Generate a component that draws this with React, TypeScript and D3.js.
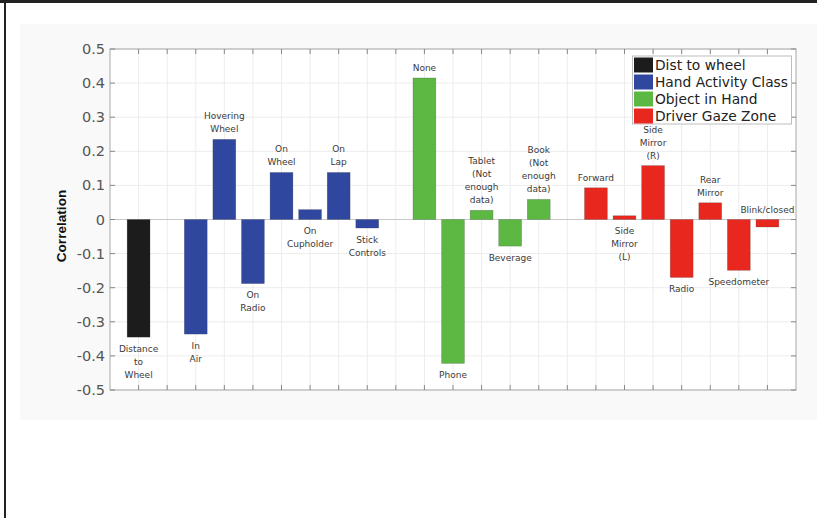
import React from "react";
import * as d3 from "d3";

// ---- data ----
const labels: string[] = [
  "Distance\nto\nWheel",
  "In\nAir",
  "Hovering\nWheel",
  "On\nRadio",
  "On\nWheel",
  "On\nCupholder",
  "On\nLap",
  "Stick\nControls",
  "None",
  "Phone",
  "Tablet\n(Not\nenough\ndata)",
  "Beverage",
  "Book\n(Not\nenough\ndata)",
  "Forward",
  "Side\nMirror\n(L)",
  "Side\nMirror\n(R)",
  "Radio",
  "Rear\nMirror",
  "Speedometer",
  "Blink/closed",
];
const xPos: number[] = [1, 3, 4, 5, 6, 7, 8, 9, 11, 12, 13, 14, 15, 17, 18, 19, 20, 21, 22, 23];
const values: number[] = [
  -0.345, -0.336, 0.235, -0.188, 0.138, 0.029, 0.138, -0.025,
  0.415, -0.422, 0.027, -0.078, 0.059,
  0.093, 0.011, 0.158, -0.17, 0.049, -0.149, -0.022,
];
const groupOf: number[] = [0, 1, 1, 1, 1, 1, 1, 1, 2, 2, 2, 2, 2, 3, 3, 3, 3, 3, 3, 3];
const labelSide: string[] = [
  "below", "below", "above", "below", "above", "below", "above", "below",
  "above", "below", "above", "below", "above",
  "above", "below", "above", "below", "above", "below", "above",
];
const groupNames: string[] = ["Dist to wheel", "Hand Activity Class", "Object in Hand", "Driver Gaze Zone"];
const groupColors: string[] = ["#1c1c1c", "#2f479f", "#5cb843", "#e8271f"];
const yTicks: number[] = [0.5, 0.4, 0.3, 0.2, 0.1, 0, -0.1, -0.2, -0.3, -0.4, -0.5];
const xTicks: number[] = d3.range(1, 24);

export default function App() {
  const W = 817, H = 518;
  const left = 110, right = 796, top = 49, bottom = 390;
  const x = d3.scaleLinear().domain([0, 24]).range([left, right]);
  const y = d3.scaleLinear().domain([-0.5, 0.5]).range([bottom, top]);
  const bw = x(0.8) - x(0);
  const lineH = 13;
  const y0 = y(0);

  return (
    <svg width={W} height={H} style={{ position: "absolute", left: 0, top: 0, background: "#fff" }}>
      <rect x={0} y={0} width={W} height={H} fill="#fff" />
      <rect x={20} y={24} width={W - 20} height={396} fill="#f9f9f9" />
      <rect x={left} y={top} width={right - left} height={bottom - top} fill="#fff" />
      {/* frame */}
      <line x1={0} x2={W} y1={1.5} y2={1.5} stroke="#222" strokeWidth={3} />
      <line x1={5} x2={5} y1={0} y2={H} stroke="#222" strokeWidth={2} />
      {/* grid */}
      {xTicks.map((t) => (
        <line key={"gx" + t} x1={x(t)} x2={x(t)} y1={top} y2={bottom} stroke="#ececec" strokeWidth={1} />
      ))}
      {yTicks.map((t) => (
        <line key={"gy" + t} x1={left} x2={right} y1={y(t)} y2={y(t)} stroke="#ececec" strokeWidth={1} />
      ))}
      {/* zero line */}
      <line x1={left} x2={right} y1={y0} y2={y0} stroke="#c8c8c8" strokeWidth={1} />
      {/* bars */}
      {values.map((v, i) => (
        <rect
          key={"b" + i}
          x={x(xPos[i]) - bw / 2}
          y={Math.min(y(v), y0)}
          width={bw}
          height={Math.abs(y(v) - y0)}
          fill={groupColors[groupOf[i]]}
          stroke="#333"
          strokeOpacity={0.35}
          strokeWidth={0.6}
        />
      ))}
      {/* box */}
      <rect x={left} y={top} width={right - left} height={bottom - top} fill="none" stroke="#a8a8a8" strokeWidth={1} />
      {/* ticks */}
      {xTicks.map((t) => (
        <g key={"tx" + t}>
          <line x1={x(t)} x2={x(t)} y1={top} y2={top + 5} stroke="#888" />
          <line x1={x(t)} x2={x(t)} y1={bottom} y2={bottom - 5} stroke="#888" />
        </g>
      ))}
      {yTicks.map((t) => (
        <g key={"ty" + t}>
          <line x1={left} x2={left + 5} y1={y(t)} y2={y(t)} stroke="#888" />
          <line x1={right} x2={right - 5} y1={y(t)} y2={y(t)} stroke="#888" />
          <text
            x={left - 5}
            y={y(t)}
            textAnchor="end"
            dominantBaseline="central"
            fontFamily="DejaVu Sans"
            fontSize={14.5}
            fill="#555"
          >
            {t === 0 ? "0" : t.toFixed(1)}
          </text>
        </g>
      ))}
      {/* y label */}
      <text
        transform={`translate(${66},${226}) rotate(-90)`}
        textAnchor="middle"
        fontFamily="Liberation Sans"
        fontWeight="bold"
        fontSize={13.6}
        fill="#111"
      >
        Correlation
      </text>
      {/* bar labels */}
      {labels.map((lab, i) => {
        const lines = lab.split("\n");
        const v = values[i];
        const cx = x(xPos[i]);
        let firstY: number;
        if (labelSide[i] === "above") {
          const lastY = Math.min(y(v), y0) - 10;
          firstY = lastY - (lines.length - 1) * lineH;
        } else {
          firstY = Math.max(y(v), y0) + 11.5;
        }
        return (
          <text
            key={"l" + i}
            textAnchor="middle"
            fontFamily="DejaVu Sans"
            fontSize={9}
            fill="#3a3a3a"
          >
            {lines.map((ln, j) => (
              <tspan key={j} x={cx} y={firstY + j * lineH} dominantBaseline="central">
                {ln}
              </tspan>
            ))}
          </text>
        );
      })}
      {/* legend */}
      <g>
        <rect x={632.5} y={56} width={159} height={68} fill="#fff" stroke="#bdbdbd" strokeWidth={1} />
        {groupNames.map((g, i) => (
          <g key={"lg" + i}>
            <rect x={634} y={57.5 + i * 17} width={19} height={15} fill={groupColors[i]} />
            <text
              x={655}
              y={65 + i * 17}
              dominantBaseline="central"
              fontFamily="DejaVu Sans"
              fontSize={13.8}
              fill="#222"
            >
              {g}
            </text>
          </g>
        ))}
      </g>
    </svg>
  );
}
